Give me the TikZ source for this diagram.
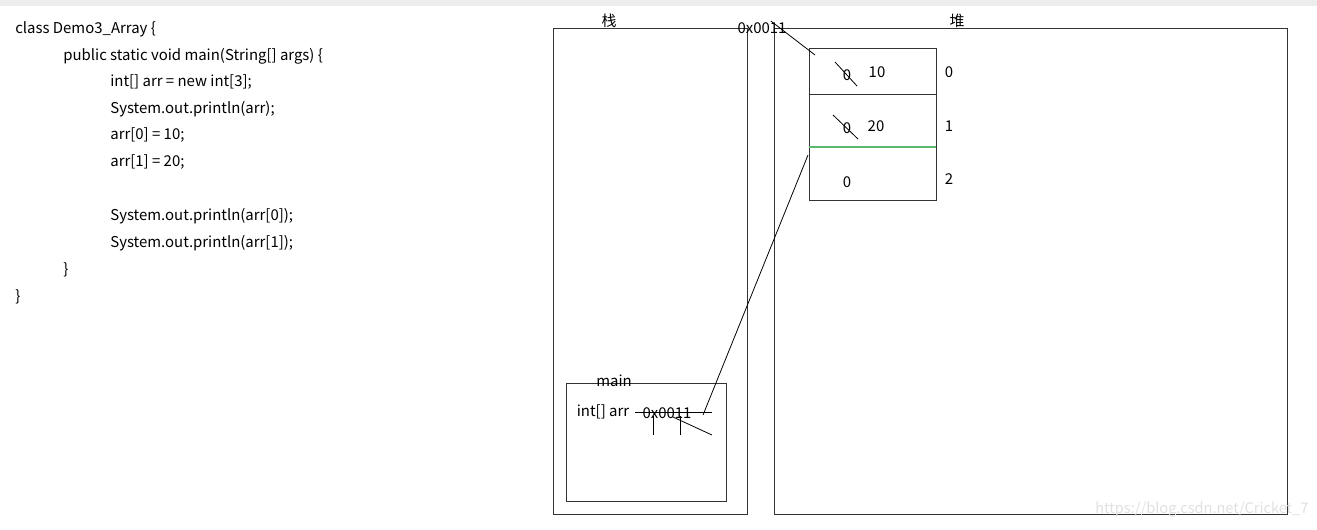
\documentclass[tikz,border=0pt]{standalone}
\usepackage{fontspec}
\setmainfont{Noto Sans CJK SC}
\begin{document}
\begin{tikzpicture}[x=0.02cm, y=-0.02cm,
    codice/.style={anchor=west, inner sep=0pt, font=\fontsize{8.5}{10}\selectfont},
    testo/.style={inner sep=0pt, font=\fontsize{8.5}{10}\selectfont},
    bordo/.style={draw=black!80, line width=0.55pt},
    tratto/.style={draw=black, line width=0.45pt}]
    \useasboundingbox (0,0) rectangle (1317,529);
    \fill[black!7] (0,0) rectangle (1317,6);
    %codice
    \node[codice] (c1) at (15,29) {class Demo3\_Array \{};
    \node[codice] (c2) at (63,56) {public static void main(String[] args) \{};
    \node[codice] (c3) at (110,82) {int[] arr = new int[3];};
    \node[codice] (c4) at (110,109) {System.out.println(arr);};
    \node[codice] (c5) at (110,135) {arr[0] = 10;};
    \node[codice] (c6) at (110,162) {arr[1] = 20;};
    \node[codice] (c7) at (110,216) {System.out.println(arr[0]);};
    \node[codice] (c8) at (110,243) {System.out.println(arr[1]);};
    \node[codice] (c9) at (63,270) {\}};
    \node[codice] (c10) at (15,297) {\}};
    %pila
    \draw[bordo] (553,28) rectangle (747,514);
    \node[testo] (pila) at (609,21) {栈};
    %heap
    \draw[bordo] (774,28) rectangle (1287,514);
    \node[testo] (heap) at (957,21) {堆};
    \node[testo] (indirizzo) at (762,28) {0x0011};
    %array
    \draw[bordo] (809,48) rectangle (936,200);
    \draw[bordo] (809,94) -- (936,94);
    \draw[draw={rgb,255:red,90;green,185;blue,110}, line width=0.7pt] (809,147) -- (936,147);
    \node[testo] (v0) at (847,75) {0};
    \node[testo] (n0) at (877,72) {10};
    \node[testo] (i0) at (949,72) {0};
    \node[testo] (v1) at (847,128) {0};
    \node[testo] (n1) at (876,126) {20};
    \node[testo] (i1) at (949,126) {1};
    \node[testo] (v2) at (847,182) {0};
    \node[testo] (i2) at (949,179) {2};
    \draw[tratto] (835,62) -- (857,86);
    \draw[tratto] (833,115) -- (858,139);
    %main
    \draw[bordo] (566,383) rectangle (726,501);
    \node[testo] (main) at (614,381) {main};
    \node[testo] (arr) at (603,412) {int[] arr};
    \node[testo] (rif) at (667,413) {0x0011};
    \draw[tratto] (635,412) -- (712,412);
    \draw[tratto] (653,416) -- (653,435);
    \draw[tratto] (680,416) -- (680,435);
    \draw[tratto] (673,417) -- (712,435);
    %puntatori
    \coordinate (cella0) at (815,55);
    \coordinate (cella2) at (808,155);
    \coordinate (fine) at (703,415);
    \draw[tratto] ([xshift=5, yshift=4]indirizzo.center) -- (cella0);
    \draw[tratto] (cella2) -- (fine);
    %filigrana
    \node[testo, anchor=west, text=black!12, font=\fontsize{8.3}{10}\selectfont] (url) at (1095,510) {https://blog.csdn.net/Cricket\_7};
\end{tikzpicture}
\end{document}
